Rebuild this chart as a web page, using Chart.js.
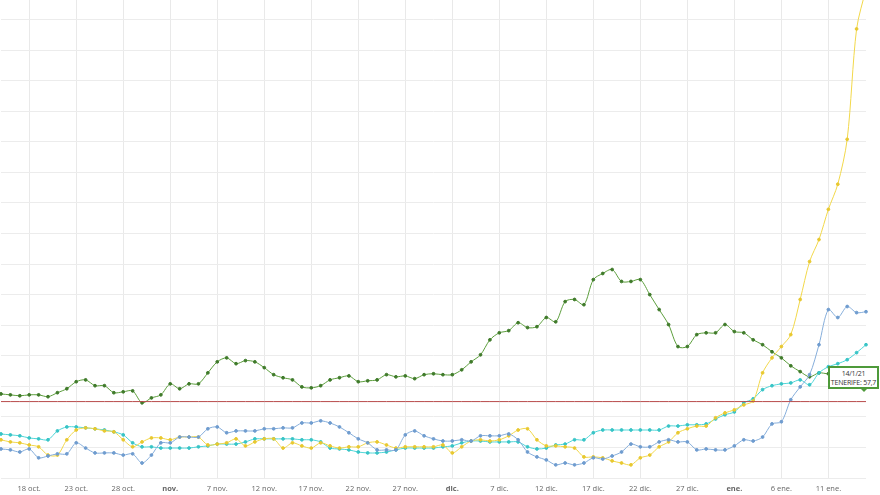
<!DOCTYPE html>
<html><head><meta charset="utf-8">
<script src="https://cdn.jsdelivr.net/npm/chart.js@4"></script>
<style>
html,body{margin:0;padding:0;background:#fff;overflow:hidden;}
#wrap{position:relative;width:880px;height:495px;overflow:hidden;}
#c{position:absolute;left:-5px;top:-6px;}
#tip{position:absolute;left:828px;top:366px;width:51px;height:23px;border:2px solid #4e9a3a;background:#fff;font:7px "Open Sans",sans-serif;color:#333;text-align:center;line-height:9px;padding-top:1px;box-sizing:border-box;white-space:nowrap;letter-spacing:-0.2px;}
#tip:after{content:"";position:absolute;right:9px;bottom:-5px;border-left:4px solid transparent;border-right:4px solid transparent;border-top:4px solid #4e9a3a;}
</style></head><body>
<div id="wrap"><canvas id="c" width="885" height="501"></canvas>
<div id="tip">14/1/21<br>TENERIFE: 57,7</div></div>
<script>
const tickLabels = ['18 oct.','23 oct.','28 oct.','nov.','7 nov.','12 nov.','17 nov.','22 nov.','27 nov.','dic.','7 dic.','12 dic.','17 dic.','22 dic.','27 dic.','ene.','6 ene.','11 ene.'];
const tenerife = [27.5,27.2,26.9,27.2,27.2,26.6,27.9,29.2,31.5,32.1,30.2,30.2,27.9,28.2,28.5,24.6,26.2,27.2,30.8,29.2,30.8,30.8,34.4,38.0,39.3,37.4,38.4,38.0,36.1,33.8,32.8,32.1,29.8,29.5,30.2,32.1,32.8,33.4,31.5,31.8,32.1,33.8,33.1,33.4,32.5,33.8,34.1,33.8,33.8,35.4,38.0,40.3,45.2,47.5,48.2,50.8,49.2,49.5,52.5,51.1,57.7,58.4,56.7,64.9,66.9,68.2,64.3,64.3,64.9,60.0,55.1,50.2,43.0,43.0,46.9,47.5,47.5,50.2,47.9,47.5,45.2,43.6,41.3,39.3,36.7,34.8,33.1,34.4,34.1,34.8];
const yellowSeries = [12.5,11.8,11.5,10.8,10.2,7.5,7.5,12.5,15.7,16.4,16.1,15.4,15.1,12.5,10.2,11.8,13.1,13.1,12.5,13.4,13.4,13.4,10.8,11.1,11.5,12.8,10.5,11.8,12.8,12.8,9.8,11.5,10.5,9.8,11.5,10.5,9.8,10.2,10.2,11.5,11.8,10.8,9.8,10.2,10.2,10.2,10.2,10.8,8.2,10.2,12.1,12.5,12.1,12.5,13.8,15.7,16.1,12.5,10.5,10.5,10.2,9.8,6.9,6.9,6.6,5.6,4.9,4.3,6.6,7.5,10.2,11.8,14.8,16.1,17.0,17.0,19.7,21.3,22.3,23.9,25.2,34.4,39.3,43.0,46.9,58.4,70.8,78.0,87.9,96.1,110.8,146.9,160];
const cyanSeries = [14.4,14.1,13.8,13.1,12.8,12.5,15.4,16.7,16.7,16.4,16.1,15.7,15.1,14.1,11.5,10.2,10.2,9.8,9.8,9.8,9.8,10.2,10.5,11.1,11.1,11.1,11.8,12.8,12.8,12.8,12.8,12.8,12.5,12.5,11.8,9.8,9.5,9.2,8.5,8.2,8.2,8.5,9.2,9.8,9.8,9.8,9.8,10.2,10.5,11.5,12.1,12.1,11.8,11.8,11.8,11.8,10.2,9.5,9.8,10.8,11.1,12.5,12.5,14.8,15.7,15.7,15.7,15.7,15.7,15.7,15.7,17.0,17.0,17.4,17.4,17.7,19.3,20.7,21.6,24.6,25.9,28.9,30.2,30.8,31.1,32.1,30.5,34.4,36.4,37.4,38.7,41.0,43.6];
const blueSeries = [9.5,9.2,8.5,9.5,6.6,7.2,7.9,7.9,11.5,9.8,8.2,8.2,8.2,7.5,7.9,4.9,7.5,11.5,11.5,13.4,13.4,13.4,16.1,16.7,14.8,15.4,15.4,15.4,16.1,16.1,16.4,16.4,18.0,18.0,18.7,18.0,16.7,14.8,12.8,11.5,9.2,9.2,9.2,14.1,15.4,13.8,12.8,12.1,12.1,12.5,12.1,13.8,13.8,13.8,14.4,12.5,8.5,6.9,5.9,4.3,4.9,4.3,4.9,6.6,6.2,7.2,8.5,11.1,10.2,10.2,11.8,12.5,11.8,11.8,9.2,9.5,9.2,9.2,10.5,12.5,12.1,13.4,17.7,18.4,25.6,29.8,33.8,43.6,55.1,52.5,56.1,54.1,54.4];
const threshold = 25;
const firstTickIndex = 3, tickEvery = 5, nPoints = 93;

const labels = Array(nPoints).fill('');
tickLabels.forEach((t,k)=>{ labels[firstTickIndex + k*tickEvery] = t; });

function ds(data,color,ptColor){
  return {data, borderColor:color, backgroundColor:ptColor, pointBackgroundColor:ptColor, pointBorderColor:ptColor,
    borderWidth:1, pointRadius:1.4, tension:0.3, fill:false};
}
new Chart(document.getElementById('c'),{
  type:'line',
  data:{labels, datasets:[
    {data:labels.map(()=>threshold), borderColor:'#b84a4a', borderWidth:1, pointRadius:0, fill:false},
    ds(blueSeries,'#86aedb','#6f9ccf'),
    ds(yellowSeries,'#f2d84a','#e8c830'),
    ds(cyanSeries,'#4fd6d8','#38c4c6'),
    ds(tenerife,'#5c9e3c','#3f7a2a')
  ]},
  options:{
    responsive:false, animation:false,
    layout:{padding:{left:1,right:14,top:0,bottom:0}},
    plugins:{legend:{display:false},tooltip:{enabled:false}},
    scales:{
      x:{grid:{color:c=>labels[c.index]?'#e9e9e9':'rgba(0,0,0,0)',drawTicks:false},border:{display:false},
         afterFit:s=>{s.height=17;},
         ticks:{autoSkip:false,maxRotation:0,padding:6,color:'#666',
           font:c=>({family:'Open Sans',size:7.5,weight:/^[a-z]/.test(labels[c.index]||'')?'bold':'normal'})}},
      y:{min:0,max:156.7,grid:{color:'#ececec',drawTicks:false},border:{display:false},
         afterFit:s=>{s.width=0;},
         ticks:{display:false,stepSize:10}}
    }
  }
});
</script></body></html>
